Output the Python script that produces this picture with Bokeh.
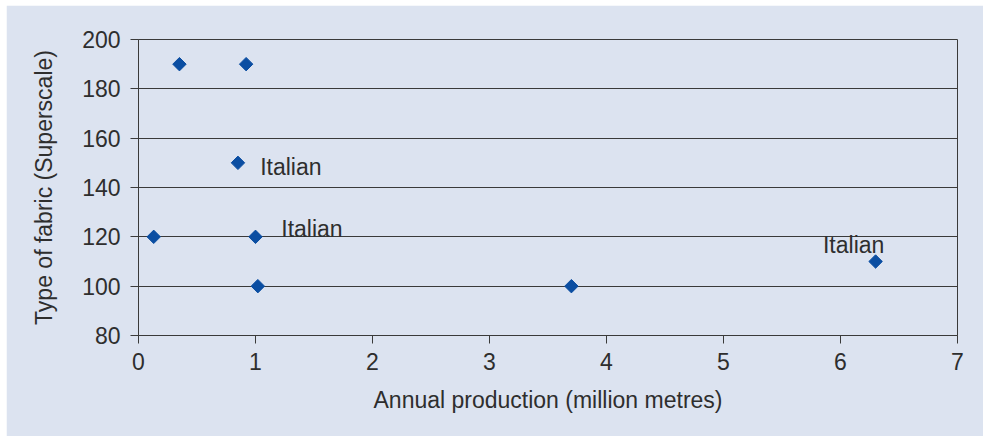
from bokeh.plotting import figure
from bokeh.models import Range1d, FixedTicker, Spacer, ColumnDataSource
from bokeh.layouts import column, row
from bokeh.embed import file_html
from bokeh.resources import INLINE
from bokeh.core.properties import value
import numpy as np

# ---- data ----
production = [0.35, 0.92, 0.85, 0.13, 1.00, 1.02, 3.70, 6.30]
fabric = [190, 190, 150, 120, 120, 100, 100, 110]
label_text = ["Italian", "Italian", "Italian"]
label_x = [1.04, 1.22, 5.85]
label_y = [148.2, 123.3, 116.5]
x_ticks = [0, 1, 2, 3, 4, 5, 6, 7]
y_ticks = [80, 100, 120, 140, 160, 180, 200]
x_title = "Annual production (million metres)"
y_title = "Type of fabric (Superscale)"

BG = "#dce3f0"
LINE = "#3a3a3a"
TXT = "#2e2e2e"
MARK = "#0b4ea2"
FONT = "Liberation Sans"
FS = "23px"

p = figure(width=977, height=431, output_backend="svg", toolbar_location=None,
           x_range=Range1d(0, 7), y_range=Range1d(80, 200),
           min_border_left=132, min_border_right=26, min_border_top=34, min_border_bottom=101)
p.background_fill_color = BG
p.border_fill_color = BG
p.outline_line_color = LINE
p.outline_line_width = 1

p.xgrid.visible = False
p.ygrid.grid_line_color = LINE
p.ygrid.grid_line_width = 1

for ax, ticks in ((p.xaxis, x_ticks), (p.yaxis, y_ticks)):
    ax.ticker = FixedTicker(ticks=ticks)
    ax.axis_line_color = LINE
    ax.major_tick_line_color = LINE
    ax.major_tick_in = 0
    ax.major_tick_out = 8
    ax.minor_tick_line_color = None
    ax.major_label_text_font = FONT
    ax.major_label_text_font_size = FS
    ax.major_label_text_color = TXT
    ax.axis_label_text_font = FONT
    ax.axis_label_text_font_size = FS
    ax.axis_label_text_font_style = "normal"
    ax.axis_label_text_color = TXT

p.xaxis.axis_label = x_title
p.yaxis.axis_label = y_title
p.xaxis.major_label_standoff = 9
p.yaxis.major_label_standoff = 10
p.xaxis.axis_label_standoff = 14
p.yaxis.axis_label_standoff = 22
p.ygrid.ticker = p.yaxis.ticker

src = ColumnDataSource(dict(x=production, y=fabric))
p.scatter("x", "y", source=src, marker="square", angle=np.pi / 4, size=9.5,
          fill_color=MARK, line_color=MARK)

lsrc = ColumnDataSource(dict(x=label_x, y=label_y, t=label_text))
p.text("x", "y", text="t", source=lsrc, text_font=value(FONT), text_font_size=FS,
       text_color=TXT, text_baseline="alphabetic", text_align="left")

layout = column(Spacer(height=5), row(Spacer(width=6), p))
open("out.html", "w").write(file_html(layout, INLINE))
